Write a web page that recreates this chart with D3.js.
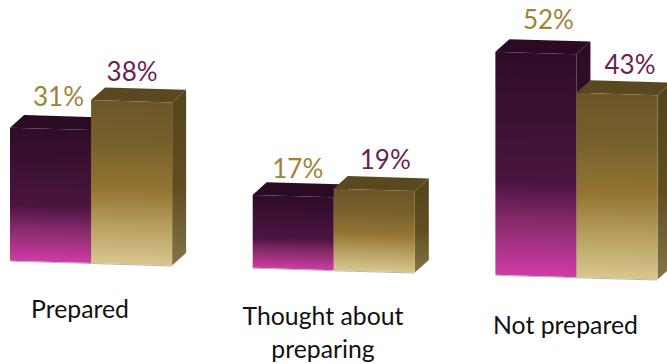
<!DOCTYPE html>
<html>
<head>
<meta charset="utf-8">
<script src="https://cdn.jsdelivr.net/npm/d3@7/dist/d3.min.js"></script>
<style>
html,body{margin:0;padding:0;background:#fff;overflow:hidden}
svg{display:block}
text{font-family:Lato,"Noto Sans",sans-serif}
</style>
</head>
<body>
<svg id="chart" width="667" height="364"></svg>
<script>
// Survey responses, one pair of values per category
const categories = ["Prepared", "Thought about preparing", "Not prepared"];
const seriesNames = ["first", "second"];
const firstValues = [31, 17, 52];
const secondValues = [38, 19, 43];
const seriesValues = [firstValues, secondValues];

// Layout
const width = 667, height = 364;
const baseY = 260.4, slope = 0.0292;   // floor line drifts downward to the right
const depthX = 14, depthY = -13;       // extrusion of the 3D boxes
const pxPerPoint = 4.29;

const x0 = d3.scaleBand().domain(categories).range([10, 657.5]).paddingInner(0.332).paddingOuter(0);
const x1 = d3.scaleBand().domain(seriesNames).range([0, x0.bandwidth()]);
const y = d3.scaleLinear().domain([0, 60]).range([baseY, baseY - 60 * pxPerPoint]);

const svg = d3.select("#chart");
const defs = svg.append("defs");

function gradient(id, stops) {
  const g = defs.append("linearGradient").attr("id", id)
    .attr("x1", 0).attr("y1", 0).attr("x2", 0).attr("y2", 1);
  g.selectAll("stop").data(stops).join("stop")
    .attr("offset", d => d[0]).attr("stop-color", d => d[1]);
}
gradient("front-first", [[0, "#2e0d29"], [0.25, "#3a1032"], [0.58, "#4a1440"], [0.75, "#842a68"], [1, "#cf3ca6"]]);
gradient("front-second", [[0, "#6c5628"], [0.25, "#75602b"], [0.55, "#957533"], [0.75, "#b49c5c"], [1, "#d9c78f"]]);
gradient("side-first", [[0, "#2a0b24"], [0.7, "#3a1032"], [1, "#5a2a50"]]);
gradient("side-second", [[0, "#54441b"], [0.55, "#5f4e20"], [1, "#837548"]]);
const topFill = { first: "#2b0a24", second: "#594820" };

const plot = svg.append("g")
  .attr("transform", `skewY(${Math.atan(slope) * 180 / Math.PI})`);

const bars = categories.flatMap((c, i) => seriesNames.map((s, j) => ({
  category: c, series: s, value: seriesValues[j][i]
})));

const box = plot.selectAll("g.box").data(bars).join("g").attr("class", "box");

const poly = pts => d3.line()(pts) + "Z";
const left = d => x0(d.category) + x1(d.series);
const right = d => left(d) + x1.bandwidth();

// Side face first, then top, then front; the second series overlaps the first
box.append("path")
  .attr("d", d => poly([[right(d), y(d.value)], [right(d) + depthX, y(d.value) + depthY],
                        [right(d) + depthX, y(0) + depthY], [right(d), y(0)]]))
  .attr("fill", d => `url(#side-${d.series})`);
box.append("path")
  .attr("d", d => poly([[left(d), y(d.value)], [left(d) + depthX, y(d.value) + depthY],
                        [right(d) + depthX, y(d.value) + depthY], [right(d), y(d.value)]]))
  .attr("fill", d => topFill[d.series]);
box.append("rect")
  .attr("x", left).attr("y", d => y(d.value))
  .attr("width", x1.bandwidth()).attr("height", d => y(0) - y(d.value))
  .attr("fill", d => `url(#front-${d.series})`);
box.append("line")
  .attr("x1", left).attr("x2", right).attr("y1", y(0) + 0.5).attr("y2", y(0) + 0.5)
  .attr("stroke", "#b9b4ae").attr("stroke-width", 1);

// Value labels sit above the boxes, shifted towards the extruded top
const labelShiftX = [8, 0.5, 4.5, 11, 12.5, 13];
const labelGapY = [22, 19, 17, 20, 23, 19];
const labelColor = { first: "#9f8238", second: "#6a1f54" };
svg.selectAll("text.value").data(bars).join("text")
  .attr("class", "value")
  .attr("x", (d, i) => left(d) + x1.bandwidth() / 2 + labelShiftX[i])
  .attr("y", (d, i) => y(d.value) + slope * left(d) - labelGapY[i])
  .attr("text-anchor", "middle")
  .attr("font-size", 26)
  .attr("fill", d => labelColor[d.series])
  .text(d => d.value + "%");

// Category names under each pair
const categoryLines = [["Prepared"], ["Thought about", "preparing"], ["Not prepared"]];
const categoryCenter = [80, 323, 565.5];
const categoryBaseline = [318, 325, 334];
const names = svg.selectAll("text.name").data(categories).join("text")
  .attr("class", "name")
  .attr("text-anchor", "middle")
  .attr("font-size", 24.8)
  .attr("fill", "#111");
names.selectAll("tspan").data((d, i) => categoryLines[i].map(t => ({ t, i }))).join("tspan")
  .attr("x", d => categoryCenter[d.i])
  .attr("y", (d, k) => categoryBaseline[d.i] + k * 33)
  .text(d => d.t);
</script>
</body>
</html>
